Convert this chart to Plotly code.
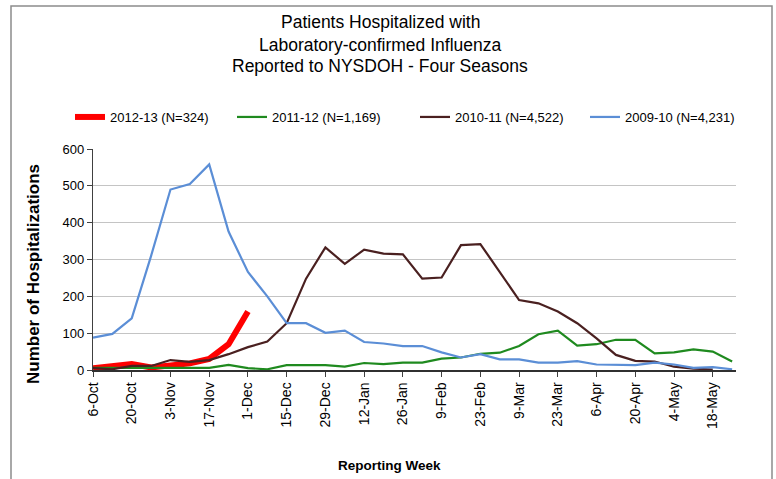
import plotly.graph_objects as go

weeks = ["6-Oct", "13-Oct", "20-Oct", "27-Oct", "3-Nov", "10-Nov", "17-Nov", "24-Nov",
         "1-Dec", "8-Dec", "15-Dec", "22-Dec", "29-Dec", "5-Jan", "12-Jan", "19-Jan",
         "26-Jan", "2-Feb", "9-Feb", "16-Feb", "23-Feb", "2-Mar", "9-Mar", "16-Mar",
         "23-Mar", "30-Mar", "6-Apr", "13-Apr", "20-Apr", "27-Apr", "4-May", "11-May",
         "18-May", "25-May"]
tick_labels = weeks[::2]

s2012_13 = [5, 9, 16, 7, 11, 18, 30, 70, 159]
s2011_12 = [6, 6, 6, 6, 6, 6, 6, 14, 5, 2, 13, 13, 13, 9, 19, 16, 20, 20, 31, 34,
            44, 47, 65, 97, 107, 66, 70, 82, 82, 45, 48, 56, 50, 23]
s2010_11 = [5, 2, 11, 11, 27, 22, 27, 43, 62, 77, 127, 248, 333, 288, 327, 316, 314,
            248, 251, 339, 342, 266, 190, 181, 159, 127, 86, 41, 25, 23, 9, 4, 1]
s2009_10 = [88, 98, 140, 310, 490, 505, 558, 376, 266, 200, 127, 127, 101, 107, 76,
            72, 65, 65, 48, 34, 43, 29, 29, 20, 20, 24, 15, 15, 13, 20, 15, 6, 8, 2]

title_lines = ["Patients Hospitalized with", "Laboratory-confirmed Influenza",
               "Reported to NYSDOH - Four Seasons"]

series = [
    ("2012-13 (N=324)", s2012_13, "#FF0000", 6, 117),
    ("2011-12 (N=1,169)", s2011_12, "#1F8A1F", 2.2, 138),
    ("2010-11 (N=4,522)", s2010_11, "#4A2020", 2.2, 125),
    ("2009-10 (N=4,231)", s2009_10, "#5B8ED6", 2.2, None),
]

FONT = "Liberation Sans, Arial, sans-serif"

fig = go.Figure()
for name, vals, color, w, lw in series:
    fig.add_trace(go.Scatter(
        x=weeks[:len(vals)], y=vals, name=name, mode="lines",
        line=dict(color=color, width=w), legendwidth=lw,
    ))

fig.update_layout(
    width=776, height=479,
    margin=dict(l=93, r=40, t=149, b=109, autoexpand=False),
    paper_bgcolor="white", plot_bgcolor="white",
    font=dict(family=FONT, color="black", size=12),
    showlegend=True,
    legend=dict(
        orientation="h", xref="paper", yref="paper",
        x=(70 - 93) / 643, xanchor="left", y=(370 - 117) / 221, yanchor="middle",
        font=dict(family=FONT, size=13, color="black"),
        bgcolor="rgba(0,0,0,0)", traceorder="normal",
    ),
    xaxis=dict(
        type="category", categoryorder="array", categoryarray=weeks,
        range=[0, 33.2], automargin=False,
        tickmode="array", tickvals=tick_labels, ticktext=tick_labels,
        tickangle=-90, ticks="outside", ticklen=5, tickcolor="#404040",
        showline=True, linecolor="#303030", linewidth=1.5,
        showgrid=False, zeroline=False,
        tickfont=dict(family=FONT, size=14, color="black"),
    ),
    yaxis=dict(
        range=[0, 600], dtick=100, tick0=0, automargin=False,
        ticks="outside", ticklen=5, tickcolor="#404040",
        showline=True, linecolor="#404040", linewidth=1.2,
        showgrid=True, gridcolor="#C4C4C4", gridwidth=1,
        zeroline=False,
        tickfont=dict(family=FONT, size=13, color="black"),
    ),
)

# title lines
for line, py in zip(title_lines, [22, 45, 66]):
    fig.add_annotation(text=line, xref="paper", yref="paper",
                       x=(380 - 93) / 643, y=(370 - py) / 221,
                       xanchor="center", yanchor="middle", showarrow=False,
                       font=dict(family=FONT, size=17.5, color="black"))

# axis titles
fig.add_annotation(text="<b>Reporting Week</b>", xref="paper", yref="paper",
                   x=(389 - 93) / 643, y=(370 - 465) / 221,
                   xanchor="center", yanchor="middle", showarrow=False,
                   font=dict(family=FONT, size=13.5, color="black"))
fig.add_annotation(text="<b>Number of Hospitalizations</b>", xref="paper", yref="paper",
                   x=(33 - 93) / 643, y=(370 - 274) / 221, textangle=-90,
                   xanchor="center", yanchor="middle", showarrow=False,
                   font=dict(family=FONT, size=17, color="black"))

# chart-area border
fig.add_shape(type="rect", xref="paper", yref="paper",
              x0=(11 - 93) / 643, x1=(772 - 93) / 643,
              y0=(370 - 485) / 221, y1=(370 - 6) / 221,
              line=dict(color="#8C8C8C", width=1.5), fillcolor="rgba(0,0,0,0)",
              layer="below")

fig.write_html("out.html", config={"displayModeBar": False},
               post_script="document.body.style.margin='0';")
